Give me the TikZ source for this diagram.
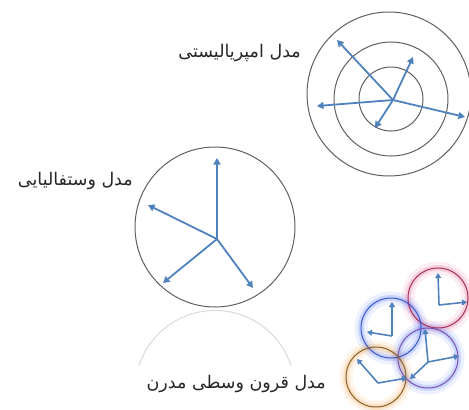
\documentclass[tikz,border=0pt]{standalone}
\usepackage{fontspec}
\newfontfamily\arabicfont[Script=Arabic]{DejaVu Sans}
\TeXXeTstate=1
\usepackage{tikz}
\usetikzlibrary{arrows.meta}
\definecolor{rayblue}{RGB}{79,129,189}
\definecolor{ringgray}{RGB}{95,95,95}
\definecolor{clockred}{RGB}{165,45,85}
\definecolor{clockblue}{RGB}{55,85,200}
\definecolor{clockpurple}{RGB}{120,80,170}
\definecolor{clockbrown}{RGB}{130,95,40}
\definecolor{glowpink}{RGB}{225,90,140}
\definecolor{glowblue}{RGB}{70,110,255}
\definecolor{gloworange}{RGB}{245,150,50}

\begin{document}
\begin{tikzpicture}[x=1pt,y=-1pt,
  ring/.style={circle,draw=ringgray,line width=1pt,inner sep=0pt,minimum size=#1},
  ray/.style={-{Triangle[length=6.5pt,width=7pt]},line width=1.8pt,rayblue},
  hand/.style={-{Triangle[length=5pt,width=6pt]},line width=1.6pt,rayblue},
  clock/.style={circle,draw=#1,line width=1pt,inner sep=0pt,minimum size=60pt},
  lbl/.style={font=\arabicfont\fontsize{17.5}{20}\selectfont,text=black!85,anchor=east,inner sep=0pt}
]
\useasboundingbox (0,0) rectangle (469,410);

% imperialist model: three rings, rays from one hub
\node[ring=64pt]  (imp1) at (391,99) {};
\node[ring=114pt] (imp2) at (391,99) {};
\node[ring=164pt] (imp3) at (389,94) {};
\coordinate (ihub) at (393,100);
\foreach \n/\x/\y in {i1/337/40, i2/317/106, i3/465/117, i4/413/57, i5/375/128}
  \coordinate (\n) at (\x,\y);
\foreach \n in {i1,i2,i3,i4,i5}
  \draw[ray] (ihub) -- (\n);
\node[lbl] (implbl) at (301,53) {\beginR مدل امپریالیستی\endR};

% westphalian model
\node[ring=160pt] (west) at (215,227) {};
\coordinate (whub) at (217,239);
\foreach \n/\x/\y in {w1/217/158, w2/148/205, w3/163/283, w4/253/288}
  \coordinate (\n) at (\x,\y);
\foreach \n in {w1,w2,w3,w4}
  \draw[ray] (whub) -- (\n);
\node[lbl] (westlbl) at (133,181) {\beginR مدل وستفالیایی\endR};
% faint reflection
\draw[gray!30,line width=1pt] (west.south) ++(0,83) coordinate (refc)
  ++(-162:80) arc[start angle=-162,end angle=-18,radius=80];

% neo-medieval model: four glowing clocks
\coordinate (rc) at (438,298);
\coordinate (bc) at (391,328);
\coordinate (pc) at (428,358);
\coordinate (oc) at (376,377);
\foreach \c/\g in {rc/glowpink, bc/glowblue, pc/glowblue, oc/gloworange} {
  \draw[\g,line width=13pt,opacity=.10] (\c) circle[radius=30];
  \draw[\g,line width=6pt,opacity=.20] (\c) circle[radius=30];
}
\node[clock=clockred]    (red)    at (rc) {};
\node[clock=clockblue]   (blue)   at (bc) {};
\node[clock=clockpurple] (purple) at (pc) {};
\node[clock=clockbrown]  (brown)  at (oc) {};

\coordinate (rh) at (439,305);
\coordinate (bh) at (392,336);
\coordinate (ph) at (428,362);
\coordinate (oh) at (378,383);
\foreach \h/\x/\y in {rh/438/273, rh/467/302, bh/392/302, bh/367/332,
    ph/425/329, ph/459/356, ph/410/379, oh/357/359, oh/407/378}
  \draw[hand] (\h) -- (\x,\y);

\node[lbl] (medlbl) at (326,384) {\beginR مدل قرون وسطی مدرن\endR};
\end{tikzpicture}
\end{document}
